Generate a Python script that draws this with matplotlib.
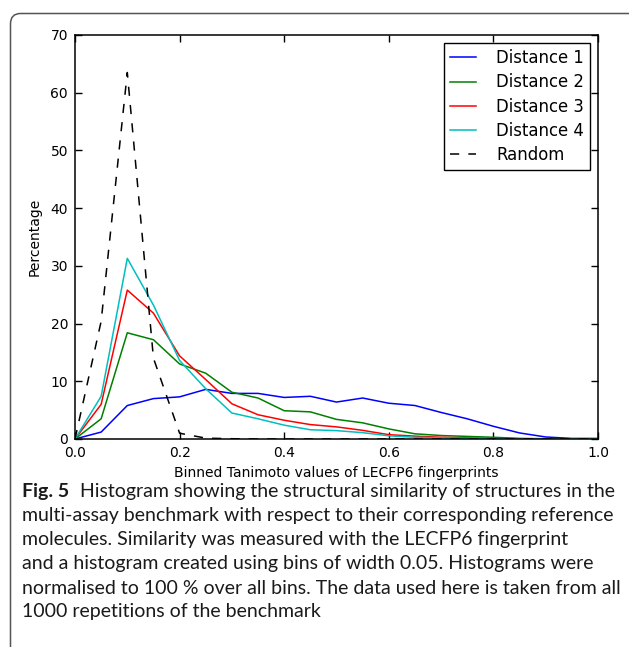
import matplotlib
matplotlib.use("Agg")
import matplotlib.pyplot as plt
from matplotlib.patches import FancyBboxPatch

# bins of width 0.05
bins = [0.0, 0.05, 0.1, 0.15, 0.2, 0.25, 0.3, 0.35, 0.4, 0.45, 0.5,
        0.55, 0.6, 0.65, 0.7, 0.75, 0.8, 0.85, 0.9, 0.95, 1.0]

dist1 = [0.0, 1.2, 5.8, 7.0, 7.3, 8.6, 7.9, 7.9, 7.2, 7.4, 6.4,
         7.1, 6.2, 5.8, 4.6, 3.5, 2.2, 1.05, 0.35, 0.1, 0.1]
dist2 = [0.0, 3.5, 18.4, 17.2, 13.0, 11.4, 8.1, 7.1, 4.9, 4.7, 3.4,
         2.8, 1.75, 0.9, 0.6, 0.45, 0.3, 0.1, 0.05, 0.0, 0.0]
dist3 = [0.0, 6.0, 25.8, 21.8, 14.4, 10.3, 6.1, 4.2, 3.25, 2.5, 2.1,
         1.5, 0.75, 0.5, 0.3, 0.2, 0.1, 0.05, 0.0, 0.0, 0.0]
dist4 = [0.0, 7.4, 31.3, 23.2, 13.6, 8.7, 4.5, 3.5, 2.4, 1.6, 1.45,
         1.1, 0.55, 0.3, 0.2, 0.1, 0.05, 0.0, 0.0, 0.0, 0.0]
random_ = [0.0, 20.4, 63.5, 14.0, 1.0, 0.15, 0.05, 0.0, 0.0, 0.0, 0.0,
           0.0, 0.0, 0.0, 0.0, 0.0, 0.0, 0.0, 0.0, 0.0, 0.0]

caption = [
    "multi-assay benchmark with respect to their corresponding reference",
    "molecules. Similarity was measured with the LECFP6 fingerprint",
    "and a histogram created using bins of width 0.05. Histograms were",
    "normalised to 100 % over all bins. The data used here is taken from all",
    "1000 repetitions of the benchmark",
]

W, H = 629, 647
fig = plt.figure(figsize=(W / 100, H / 100), dpi=100)
fig.patch.set_facecolor("white")

# rounded frame around figure + caption (runs off right/bottom edge)
box = FancyBboxPatch((10.5 / W, -0.1), 1.2, 1 - 13.5 / H + 0.1,
                     boxstyle="round,pad=0,rounding_size=0.016",
                     transform=fig.transFigure, facecolor="none",
                     edgecolor="#555555", linewidth=1.1)
fig.patches.append(box)

ax = fig.add_axes([75 / W, 1 - 439 / H, 523 / W, 404 / H])
ax.plot(bins, dist1, color=(0, 0, 1), lw=1.1, label="Distance 1")
ax.plot(bins, dist2, color=(0, 0.5, 0), lw=1.1, label="Distance 2")
ax.plot(bins, dist3, color=(1, 0, 0), lw=1.1, label="Distance 3")
ax.plot(bins, dist4, color=(0, 0.75, 0.75), lw=1.1, label="Distance 4")
ax.plot(bins, random_, color="black", lw=1.1, ls=(0, (6, 6)), label="Random")

ax.set_xlim(0, 1.0)
ax.set_ylim(0, 70)
ax.set_xticks([0.0, 0.2, 0.4, 0.6, 0.8, 1.0])
ax.set_yticks([0, 10, 20, 30, 40, 50, 60, 70])
ax.tick_params(direction="in", top=True, right=True, length=5, width=1,
               labelsize=10, pad=5)
for s in ax.spines.values():
    s.set_linewidth(1.1)
ax.set_xlabel("Binned Tanimoto values of LECFP6 fingerprints", fontsize=10, labelpad=4)
ax.set_ylabel("Percentage", fontsize=10, labelpad=6)

leg = ax.legend(loc="upper right", fontsize=11.9, fancybox=False,
                framealpha=1, edgecolor="black", handlelength=1.6,
                handletextpad=1.2, borderpad=0.35, labelspacing=0.38,
                borderaxespad=0.5)
leg.get_frame().set_linewidth(1.0)

# caption
cap_font = "Lato"
cap_size = 14.0
fig.text(22 / W, 1 - 492 / H, "Fig. 5", fontsize=cap_size, family=cap_font,
         fontweight="bold", va="center", color="#1a1a1a")
fig.text(80 / W, 1 - 492 / H,
         "Histogram showing the structural similarity of structures in the",
         fontsize=cap_size, family=cap_font, va="center", color="#1a1a1a")
for i, line in enumerate(caption):
    fig.text(22 / W, 1 - (516 + 24 * i) / H, line, fontsize=cap_size,
             family=cap_font, va="center", color="#1a1a1a")

fig.savefig("out.png", dpi=100)
